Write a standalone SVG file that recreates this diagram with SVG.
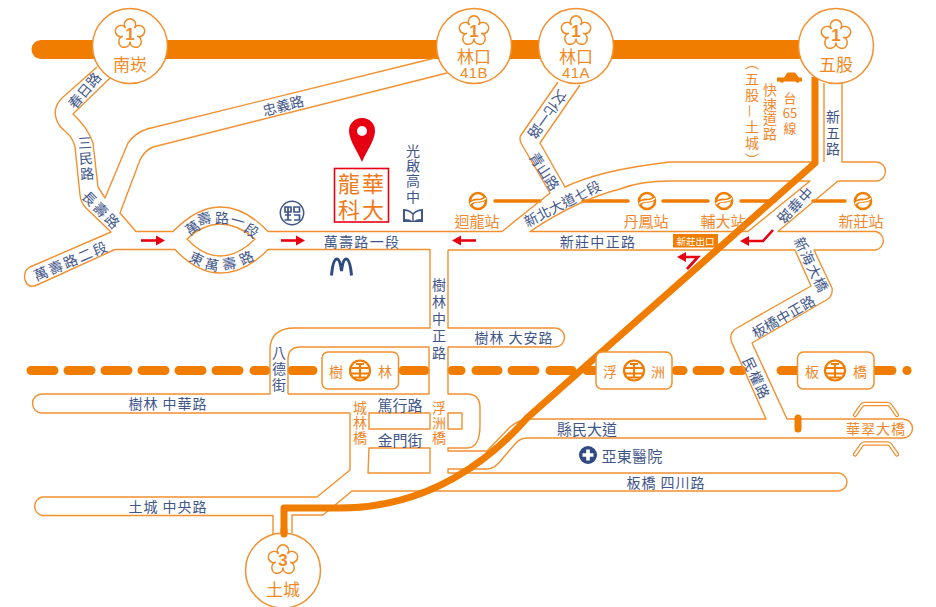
<svg xmlns="http://www.w3.org/2000/svg" width="936" height="607" viewBox="0 0 936 607">
<style>
text{font-family:"Noto Sans CJK TC","Noto Sans CJK SC","Liberation Sans",sans-serif;text-anchor:middle;dominant-baseline:central}
.n{fill:#3f5688;font-size:14px}
.o{fill:#f0872a;font-size:14px}
.v{writing-mode:vertical-rl;dominant-baseline:auto}
.r{fill:none;stroke:#f2902f;stroke-width:1.4;stroke-linejoin:round}
.t{fill:none;stroke:#f07c00;stroke-linecap:round}
.h{fill:none;stroke:#f07c00;stroke-width:7;stroke-linejoin:round}
.c{fill:#fff;stroke:#f2902f;stroke-width:1.5}
.fl{fill:none;stroke:#f08a24;stroke-width:1.6}
.num{fill:#f08a24;font:bold 17px "Liberation Sans",sans-serif}
.cl{fill:#f08a24;font-size:17px}
.ex{fill:#f08a24;font:15px "Liberation Sans",sans-serif;letter-spacing:.5px}
.red{fill:none;stroke:#e60012;stroke-width:2.6}
.redf{fill:#e60012}
.box{fill:#fff;stroke:#f2902f;stroke-width:1.5}
</style>
<defs>
<g id="flower"><path class="fl" d="M-4.4,-6.07A5.6,5.6 0 1 1 4.4,-6.07A5.6,5.6 0 1 1 7.13,2.32A5.6,5.6 0 1 1 0,7.5A5.6,5.6 0 1 1 -7.13,2.32A5.6,5.6 0 1 1 -4.4,-6.07Z"/></g>
<g id="rail"><circle r="10" fill="none" stroke="#f07c00" stroke-width="2.2"/><path d="M-10,-2.5H10M-10,3H10M0,-7V7M-4,-6.5H4M-6,7H6" fill="none" stroke="#f07c00" stroke-width="2"/></g>
<g id="metro"><circle r="8" fill="none" stroke="#f07c00" stroke-width="2.6"/><path d="M-7,3C-3,-4 3,3 7,-3" fill="none" stroke="#f07c00" stroke-width="4"/><path d="M-8,3C-3,-3 3,3 8,-3" fill="none" stroke="#fff" stroke-width="1.4"/></g>
<g id="br"><path d="M-21,6L-14,-4Q-13,-5 -11,-5H11Q13,-5 14,-4L21,6" fill="none" stroke="#f2902f" stroke-width="4.4" stroke-linecap="round" stroke-linejoin="round"/><path d="M-21,6L-14,-4Q-13,-5 -11,-5H11Q13,-5 14,-4L21,6" fill="none" stroke="#fff" stroke-width="2" stroke-linecap="round" stroke-linejoin="round"/></g>
</defs>

<g id="lines">
<path class="t" stroke-width="19" d="M41,49.5H815"/>
<path class="t" stroke-width="9" d="M31,370.5H54M68,370.5H91M105,370.5H128M142,370.5H165M179,370.5H202M216,370.5H239M254,370.5H266M292,370.5H313M403,370.5H425M452,370.5H461M476,370.5H498M512,370.5H535M550,370.5H572M587,370.5H595M676,370.5H683M697,370.5H720M734,370.5H742M781,370.5H797M874,370.5H892"/>
<circle cx="907" cy="370.5" r="4.6" fill="#f07c00"/>
<path d="M495,201H540M583,201H628M663,201H708M741,201H775M813,201H845" class="t" stroke-width="3.5"/>
</g>

<g id="connectors">
<path class="r" d="M97,67L62,98Q53,107 56,118Q58,126 66,132Q73,138 75,147L80,195Q81,203 86,208L111,232L30,267Q23,271 25,280Q28,289 37,285L115,249.5H175Q197,273 220,273Q245,273 268,249.5H430V328H295Q270,328 270,350V394H42A9.5,9.5 0 0 0 42,413H350V470L317,497H42A9.5,9.5 0 0 0 42,515.5H273V534"/>
<path class="r" d="M110,78L73,114Q88,128 93,143L98,187L105,198L128,143Q135,133 147,129L435,58"/>
<path class="r" d="M447,73L153,147Q145,150 140,160L120,213L136,231.5H173Q197,207 220,207Q245,207 268,231.5H502L550,193L521,143Q519,138 521,135L558,82"/>
<path class="r" d="M187,239Q203,224 220,224Q238,224 255,239Q238,256 220,256Q203,256 187,239Z"/>
<path class="r" d="M580,85L540,143L565,187Q600,170 670,162H812"/>
<path class="r" d="M824,83V162M842,83V162H876A9.5,9.5 0 0 1 876,181H838L778,231.5H876A9.5,9.5 0 0 1 876,250H814L832,288Q833,295 828,299L752,343L787,419H903A9.5,9.5 0 0 1 903,438H527Q520,438 515,444L503,458Q495,469 487,469H448V473H838A9,9 0 0 1 838,491H352L323,515H292V533"/>
<path class="r" d="M530,231.5Q577,200 620,189Q640,181 670,181H810L748,231.5H530Z"/>
<path class="r" d="M448,250H795L811,286L737,328Q728,333 732,343L766,419H530Q520,419 510,427L487,451H448V448H467Q480,448 480,425V408Q480,394 467,394H448V347H555A9.5,9.5 0 0 0 555,328H448V250"/>
<path class="r" d="M288,394V360Q288,347 300,347H429V394H288"/>
<rect class="r" x="369" y="413" width="61" height="16"/>
<path class="r" d="M369,448H430V473H368Z"/>
<rect class="r" x="448" y="413" width="14" height="16"/>
<path class="h" d="M815,77V163L527,418C492,458 430,508 340,508H284V533"/>
<path class="t" stroke-width="7" d="M798,418V429"/>
<path class="red" d="M773,230L763,241H746"/><path class="redf" d="M740,241L749,236V246Z"/>
<path class="red" d="M687,269L698,257H684"/><path class="redf" d="M677,257L686,252V262Z"/>
<path class="red" d="M141,240.5H158"/><path class="redf" d="M165,240.5L156,235.5V245.5Z"/>
<path class="red" d="M281,240.5H298"/><path class="redf" d="M305,240.5L296,235.5V245.5Z"/>
<path class="red" d="M476,240.5H459"/><path class="redf" d="M452,240.5L461,235.5V245.5Z"/>
</g>

<g id="ic-nankan"><circle class="c" cx="130" cy="46" r="37.5"/><use href="#flower" x="130" y="34"/><text class="num" x="130" y="34">1</text><text class="cl" x="130" y="63">南崁</text></g>
<g id="ic-linkou-b"><circle class="c" cx="474" cy="46" r="37.5"/><use href="#flower" x="474" y="31"/><text class="num" x="474" y="31">1</text><text class="cl" x="474" y="55">林口</text><text class="ex" x="474" y="72">41B</text></g>
<g id="ic-linkou-a"><circle class="c" cx="576" cy="46" r="37.5"/><use href="#flower" x="576" y="31"/><text class="num" x="576" y="31">1</text><text class="cl" x="576" y="55">林口</text><text class="ex" x="576" y="72">41A</text></g>
<g id="ic-wugu"><circle class="c" cx="836" cy="46" r="37.5"/><use href="#flower" x="836" y="35"/><text class="num" x="836" y="35">1</text><text class="cl" x="836" y="63">五股</text></g>
<g id="ic-tucheng"><circle class="c" cx="283" cy="570.5" r="37.5"/><use href="#flower" x="283" y="560"/><text class="num" x="283" y="560">3</text><text class="cl" x="283" y="588">土城</text><path class="t" stroke-width="7" d="M284,530V534"/></g>

<g id="lhu"><path class="redf" d="M362,118A12.7,12.7 0 0 1 375,131C375,140 366,152 362,162C358,152 349,140 349,131A12.7,12.7 0 0 1 362,118ZM362,126A5,5 0 1 0 362,136A5,5 0 1 0 362,126Z" fill-rule="evenodd"/>
<rect x="334.5" y="168.5" width="54" height="53.5" fill="#fff" stroke="#e60012" stroke-width="1.6"/>
<text x="349" y="182" fill="#f0791a" style="font-size:22px">龍</text><text x="373" y="182" fill="#f0791a" style="font-size:22px">華</text><text x="349" y="208" fill="#f0791a" style="font-size:22px">科</text><text x="373" y="208" fill="#f0791a" style="font-size:22px">大</text></g>

<g id="school"><text class="n v" style="letter-spacing:1.3px" x="413" y="174">光啟高中</text>
<path d="M403,209Q409,209 413,213Q417,209 423,209V222H403ZM405,211V219Q410,219 412.3,221V214.5Q409,211 405,211ZM421,211Q417,211 413.7,214.5V221Q416,219 421,219Z" fill="#3f5688" fill-rule="evenodd"/></g>
<g id="mcd"><path d="M331.5,275.5Q333,259 337,259Q340,259 341.5,271Q343,259 346,259Q350,259 351.5,275.5" fill="none" stroke="#2f4a80" stroke-width="3"/></g>
<g id="post"><circle cx="292" cy="213" r="11.7" fill="#fff" stroke="#3f5688" stroke-width="1.5"/><path d="M285,207H291V212H285ZM285,215H291M288,207V220M284.5,220H291.5M294,207H299.5V212H294ZM294,215H299.5V220H294" fill="none" stroke="#3f5688" stroke-width="1.7"/></g>
<g id="hospital"><circle cx="588" cy="455" r="9" fill="#2f4a80"/><path d="M588,449.5V460.5M582.5,455H593.5" stroke="#fff" stroke-width="3.6" fill="none"/><text class="n" style="font-size:15px;letter-spacing:.3px" x="632" y="455">亞東醫院</text></g>

<g id="st-shulin"><rect class="box" x="322" y="352" width="76.5" height="37" rx="6"/><use href="#rail" x="360" y="370.5"/><text class="o" x="336" y="370.5">樹</text><text class="o" x="385" y="370.5">林</text></g>
<g id="st-fuzhou"><rect class="box" x="596" y="352" width="76" height="37" rx="6"/><use href="#rail" x="634" y="370.5"/><text class="o" x="610" y="370.5">浮</text><text class="o" x="658" y="370.5">洲</text></g>
<g id="st-banqiao"><rect class="box" x="797.5" y="352" width="76.5" height="37" rx="6"/><use href="#rail" x="835" y="370.5"/><text class="o" x="812" y="370.5">板</text><text class="o" x="860" y="370.5">橋</text></g>

<g id="m-huilong"><use href="#metro" x="478" y="201"/><text class="o" style="font-size:15px" x="477" y="220">迴龍站</text></g>
<g id="m-danfeng"><use href="#metro" x="647" y="201"/><text class="o" style="font-size:15px" x="646" y="220">丹鳳站</text></g>
<g id="m-fuda"><use href="#metro" x="724" y="201"/><text class="o" style="font-size:15px" x="723" y="220">輔大站</text></g>
<g id="m-xinzhuang"><use href="#metro" x="863" y="201"/><text class="o" style="font-size:15px" x="861" y="220">新莊站</text></g>

<g id="exit"><rect x="673" y="234" width="45" height="13.5" fill="#f07c00"/><text x="695.5" y="240.7" fill="#fff" style="font-size:9.5px">新莊出口</text></g>
<g id="car"><path d="M777,77.5H784L787.5,72.5H795L799,77.5H802V81.5H799.5A2.2,2.2 0 0 1 795.5,81.5H784A2.2,2.2 0 0 1 780,81.5H777Z" fill="#f07c00"/></g>
<g id="bridge"><use href="#br" x="876" y="409"/><use href="#br" x="876" y="448.5"/><text class="o" style="letter-spacing:1px" x="876" y="428">華翠大橋</text></g>

<g id="labels">
<text class="n" transform="translate(84 90) rotate(-50)">春日路</text>
<text class="n v" style="letter-spacing:1.5px" transform="translate(86 159) rotate(-4)">三民路</text>
<text class="n" transform="translate(102 210) rotate(45)" style="letter-spacing:2px">長壽路</text>
<text class="n" transform="translate(283 105) rotate(-15)">忠義路</text>
<text class="n" transform="translate(71 260) rotate(-23)" style="letter-spacing:2px">萬壽路二段</text>
<text class="n" transform="translate(192 227) rotate(-35)">萬</text><text class="n" transform="translate(204 218) rotate(-15)">壽</text><text class="n" transform="translate(222 217)">路</text><text class="n" transform="translate(238 220) rotate(15)">一</text><text class="n" transform="translate(252 230) rotate(35)">段</text>
<text class="n" transform="translate(197 258) rotate(25)">東</text><text class="n" transform="translate(212 264) rotate(10)">萬</text><text class="n" transform="translate(229 263) rotate(-10)">壽</text><text class="n" transform="translate(246 257) rotate(-25)">路</text>
<text class="n" style="letter-spacing:1.3px" x="362" y="240.5">萬壽路一段</text>
<text class="n" style="letter-spacing:1.3px" x="598" y="240.5">新莊中正路</text>
<text class="n" transform="translate(562 203) rotate(-27)">新北大道七段</text>
<text class="n" transform="translate(548 115) rotate(126)">文化一路</text>
<text class="n" transform="translate(545 171) rotate(57)">青山路</text>
<text class="n v" style="letter-spacing:2px" x="833" y="134">新五路</text>
<text class="o" style="font-size:13px" x="790" y="97">台</text><text class="o" style="font-size:13px" x="790" y="112">65</text><text class="o" style="font-size:13px" x="790" y="127">線</text>
<text class="o v" style="letter-spacing:.5px" x="770" y="112">快速道路</text>
<text class="o v" style="letter-spacing:2.4px" x="752" y="112">（五股—土城）</text>
<text class="n" style="letter-spacing:1px" transform="translate(812 264.5) rotate(64)">新海大橋</text>
<text class="n" transform="translate(783 316) rotate(-30)">板橋中正路</text>
<text class="n" style="letter-spacing:1px" transform="translate(757 378) rotate(65)">民權路</text>
<text class="n v" style="letter-spacing:2px" x="279" y="370">八德街</text>
<text class="n v" style="letter-spacing:3px" x="439" y="320">樹林中正路</text>
<text class="n" style="letter-spacing:1px" x="514" y="337">樹林 大安路</text>
<text class="n" style="letter-spacing:1px" x="168" y="403">樹林 中華路</text>
<text class="n" style="letter-spacing:1px" x="168" y="506">土城 中央路</text>
<text class="n" style="font-size:15px" x="400" y="404">篤行路</text>
<text class="n" style="font-size:15px" x="400" y="439">金門街</text>
<text class="o v" style="letter-spacing:1px" x="360" y="423">城林橋</text>
<text class="o v" style="letter-spacing:1px" x="439" y="423">浮洲橋</text>
<text class="n" style="font-size:15px" x="587" y="428">縣民大道</text>
<text class="n" style="letter-spacing:1px" x="666" y="482">板橋 四川路</text>
<text class="n" transform="translate(795 206) rotate(132)" style="letter-spacing:1px">中華路</text>
</g>
</svg>
